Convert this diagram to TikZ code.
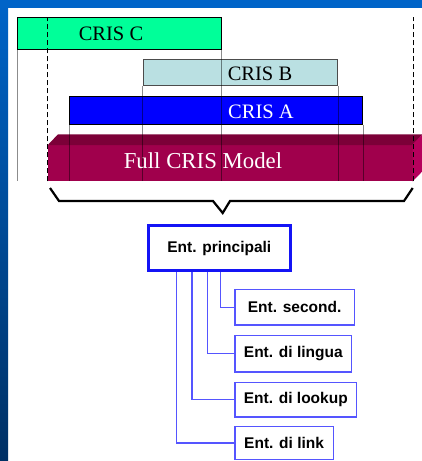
\documentclass[tikz,border=0pt]{standalone}
\usepackage{fontspec}
\setmainfont{Liberation Serif}
\newfontfamily\arialfont{Liberation Sans}
\definecolor{frameblue}{RGB}{0,100,200}
\definecolor{framedark}{RGB}{0,48,100}
\definecolor{crisC}{RGB}{0,255,153}
\definecolor{crisB}{RGB}{186,224,226}
\definecolor{crisA}{RGB}{0,0,255}
\definecolor{fcfront}{RGB}{160,0,76}
\definecolor{fctop}{RGB}{124,0,56}
\definecolor{fcside}{RGB}{182,0,92}
\definecolor{mainblue}{RGB}{20,20,245}
\definecolor{childblue}{RGB}{85,85,255}
\tikzset{
  crisbox/.style={draw=black, line width=0.8pt, inner sep=0pt, anchor=north west},
  cristext/.style={font=\fontsize{20.5}{24}\selectfont, anchor=base, inner sep=0pt},
  vline/.style={draw=black, draw opacity=0.45, line width=0.8pt},
  dline/.style={draw=black, line width=0.9pt, dash pattern=on 5pt off 3pt},
  bracestyle/.style={draw=black, line width=2.2pt, line join=miter},
  entmain/.style={draw=mainblue, line width=3pt, fill=white, inner sep=0pt,
    font=\arialfont\bfseries\fontsize{15.5}{18}\selectfont},
  entchild/.style={draw=childblue, line width=1.3pt, fill=white, inner sep=0pt, anchor=west,
    font=\arialfont\bfseries\fontsize{15.5}{18}\selectfont},
  conn/.style={draw=childblue, line width=1.2pt}
}
\begin{document}
\begin{tikzpicture}[x=1pt,y=-1pt]
\useasboundingbox (0,0) rectangle (422,461);
\fill[white] (0,0) rectangle (422,461);
\shade[top color=frameblue, bottom color=framedark] (0,0) rectangle (8,461);
\fill[frameblue] (0,0) rectangle (422,8);

% CRIS boxes
\node[crisbox, fill=crisC, minimum width=204pt, minimum height=32pt] (C) at (17,17.3) {};
\node[crisbox, draw=black!70, fill=crisB, minimum width=194.6pt, minimum height=26pt] (B) at (142.7,59.3) {};
\node[crisbox, fill=crisA, minimum width=293pt, minimum height=27.7pt] (A) at (69.3,96.3) {};

% Full CRIS model (3D bar)
\node[fill=fcfront, inner sep=0pt, anchor=north west, minimum width=365pt, minimum height=36.7pt] (full) at (47.7,144.3) {};
\fill[fctop] ([yshift=-0.8pt]full.north west) -- (58,134.3) -- (422,134.3) -- (422,135) -- ([yshift=-0.8pt]full.north east) -- cycle;
\fill[fcside] ([xshift=-0.5pt]full.north east) -- (422,135) -- (422,171.7) -- ([xshift=-0.5pt]full.south east) -- cycle;

% vertical guide lines
\draw[vline] (C.south west) -- (C.south west |- full.south);
\draw[vline] (C.south east) -- (C.south east |- full.south);
\draw[vline] (B.south west) -- (B.south west |- full.south);
\draw[vline] (B.south east) -- (B.south east |- full.south);
\draw[vline] (A.south west) -- (A.south west |- full.south);
\draw[vline] (A.south east) -- (A.south east |- full.south);
\draw[dline] (full.south west) -- (full.south west |- C.north);
\draw[dline] (full.south east) -- (full.south east |- C.north);

% texts
\node[cristext] (Ct) at (111,40.7) {CRIS C};
\node[cristext] (Bt) at (260,80) {CRIS B};
\node[cristext, text=white] (At) at (261,118.3) {CRIS A};
\node[cristext, text=white, font=\fontsize{22.8}{27}\selectfont] (Ft) at (203,168.3) {Full CRIS Model};

% brace
\draw[bracestyle] (50,188) -- (59,201) -- (213,201) -- (222.7,213) -- (230,201) -- (404,201) -- (412.7,188);

% entity tree
\node[entmain, minimum width=141.5pt, minimum height=45.3pt] (ep) at (219.3,248.2) {Ent. principali};
\node[entchild, minimum width=119.3pt, minimum height=35.5pt] (es) at (234.3,307.2) {Ent. second.};
\node[entchild, minimum width=116.7pt, minimum height=36.5pt] (el) at (234.3,353.7) {Ent. di lingua};
\node[entchild, minimum width=121.7pt, minimum height=34.3pt] (ek) at (234.3,399.8) {Ent. di lookup};
\node[entchild, minimum width=98.3pt, minimum height=33.3pt] (ei) at (234.3,443) {Ent. di link};

\draw[conn] ([xshift=1.4pt]ep.south) |- (es.west);
\draw[conn] ([xshift=-12pt]ep.south) |- (el.west);
\draw[conn] ([xshift=-27.3pt]ep.south) |- (ek.west);
\draw[conn] ([xshift=-42.6pt]ep.south) |- (ei.west);
\end{tikzpicture}
\end{document}
